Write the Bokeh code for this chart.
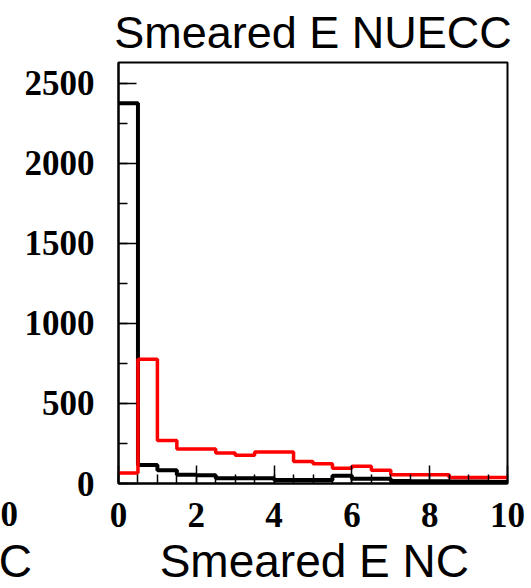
from bokeh.plotting import figure
from bokeh.models import Range1d, SingleIntervalTicker, Label
from bokeh.embed import file_html
from bokeh.resources import INLINE

# Histogram bins (lower edges, width 0.5) for the smeared energy
bin_lo = [0.0, 0.5, 1.0, 1.5, 2.0, 2.5, 3.0, 3.5, 4.0, 4.5,
          5.0, 5.5, 6.0, 6.5, 7.0, 7.5, 8.0, 8.5, 9.0, 9.5]
bin_hi_last = 10.0

# NC sample (black) and NUECC sample (red) counts per bin
nc_counts = [2376, 116, 83, 54, 51, 33, 33, 33, 22, 22,
             22, 48, 30, 30, 16, 14, 14, 12, 12, 10]
nuecc_counts = [65, 777, 268, 216, 216, 191, 177, 197, 197, 137,
                123, 95, 108, 83, 54, 54, 54, 37, 37, 37]

x_ticks_major = 2
y_ticks_major = 500

W, H = 531, 588
LEFT, RIGHT, TOP, BOTTOM = 118, 24, 61, 105
X0, X1 = 0.0, 10.0
Y0, Y1 = 0.0, 2631.0

p = figure(width=W, height=H,
           x_range=Range1d(X0, X1), y_range=Range1d(Y0, Y1),
           output_backend="svg", toolbar_location=None,
           min_border_left=LEFT, min_border_right=RIGHT,
           min_border_top=TOP, min_border_bottom=BOTTOM,
           background_fill_color="white", border_fill_color="white")

# pixel -> data helpers for the text placed outside the frame
fw = W - LEFT - RIGHT
fh = H - TOP - BOTTOM
def dx(px):
    return X0 + (px - LEFT) / fw * (X1 - X0)
def dy(py):
    return Y0 + (H - BOTTOM - py) / fh * (Y1 - Y0)

p.title.text = "Smeared E NUECC"
p.title.align = "center"
p.title.text_font = "Liberation Sans"
p.title.text_font_size = "45px"
p.title.text_font_style = "normal"
p.title.text_color = "black"
p.title.standoff = 9

p.xgrid.visible = False
p.ygrid.visible = False
p.outline_line_color = "black"
p.outline_line_width = 2

p.xaxis.ticker = SingleIntervalTicker(interval=x_ticks_major, num_minor_ticks=4)
p.yaxis.ticker = SingleIntervalTicker(interval=y_ticks_major, num_minor_ticks=2)
for ax in p.axis:
    ax.major_tick_in = 18
    ax.major_tick_out = 0
    ax.minor_tick_in = 9
    ax.minor_tick_out = 0
    ax.major_tick_line_width = 1.5
    ax.minor_tick_line_width = 1.5
    ax.major_tick_line_color = "black"
    ax.minor_tick_line_color = "black"
    ax.axis_line_width = 2
    ax.axis_line_color = "black"
    ax.major_label_text_font = "Liberation Serif"
    ax.major_label_text_font_style = "bold"
    ax.major_label_text_font_size = "35px"
    ax.major_label_text_color = "black"
p.xaxis.major_label_standoff = 19
p.yaxis.major_label_standoff = 24

# step outlines of both histograms
edges = bin_lo + [bin_hi_last]
p.step(x=edges, y=nc_counts + [nc_counts[-1]], mode="after",
       line_color="black", line_width=4)
p.step(x=edges, y=nuecc_counts + [nuecc_counts[-1]], mode="after",
       line_color="#ff0000", line_width=3.5)

# bottom row: the edge of the neighbouring pad's title, then this x-axis title
NBSP = "\u00a0"
p.add_layout(Label(x=dx(468.5), y=dy(561), text="C" + NBSP * 10 + "Smeared E NC",
                   text_align="right", text_baseline="middle",
                   text_font="Liberation Sans", text_font_size="46px",
                   text_color="black"), "below")
# edge of the neighbouring pad's last x tick label
p.add_layout(Label(x=dx(0), y=dy(514), text="0",
                   text_align="left", text_baseline="middle",
                   text_font="Liberation Serif", text_font_style="bold",
                   text_font_size="35px", text_color="black"), "left")

open("out.html", "w").write(file_html(p, INLINE))
